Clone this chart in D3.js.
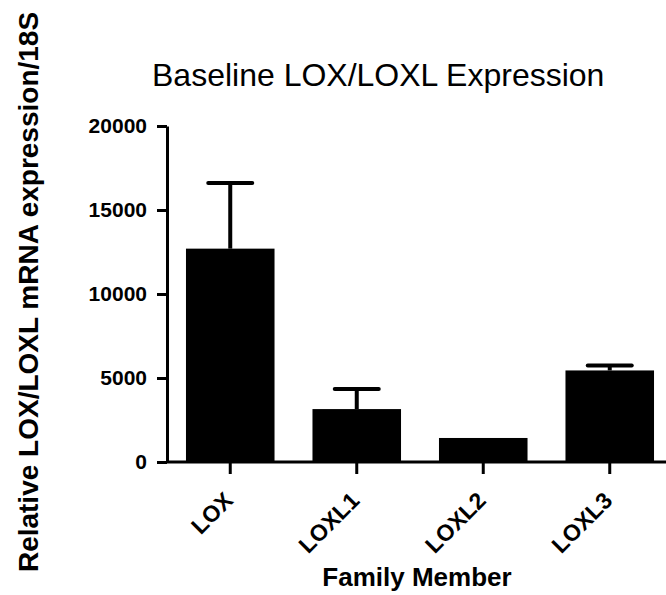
<!DOCTYPE html>
<html>
<head>
<meta charset="utf-8">
<script src="https://cdn.jsdelivr.net/npm/d3@7"></script>
<style>
    body { margin: 0; background: #fff; }
    svg { display: block; font-family: Arial, "Liberation Sans", sans-serif; }
</style>
</head>
<body>
<svg id="chart"></svg>
<script>
const categories = ['LOX', 'LOXL1', 'LOXL2', 'LOXL3']
const means = [12700, 3150, 1430, 5450]
const errorTops = [16600, 4350, 1430, 5740]
const yTicks = [0, 5000, 10000, 15000, 20000]

const width = 666
const height = 595

//set up svg container
const svg = d3.select('#chart')
    .attr('width', width)
    .attr('height', height)

// set up scales
const x = d3.scaleBand()
    .domain(categories)
    .range([167, 673])
    .paddingInner(0.3)
    .paddingOuter(0.15)

const y = d3.scaleLinear()
    .domain([0, 20000])
    .range([462, 126])

const rows = categories.map((c, i) => ({ label: c, mean: means[i], top: errorTops[i] }))

// bars
svg.selectAll('rect.bar')
    .data(rows)
    .join('rect')
    .attr('class', 'bar')
    .attr('x', d => x(d.label))
    .attr('y', d => y(d.mean))
    .attr('width', x.bandwidth())
    .attr('height', d => y(0) - y(d.mean))
    .attr('fill', '#000')

// error bars (upper only, skipped when the error is too small to show)
const capHalf = 22
const withError = rows.filter(d => d.top > d.mean)
svg.selectAll('line.stem')
    .data(withError)
    .join('line')
    .attr('class', 'stem')
    .attr('x1', d => x(d.label) + x.bandwidth() / 2)
    .attr('x2', d => x(d.label) + x.bandwidth() / 2)
    .attr('y1', d => y(d.mean))
    .attr('y2', d => y(d.top))
    .attr('stroke', '#000')
    .attr('stroke-width', 4)

svg.selectAll('line.cap')
    .data(withError)
    .join('line')
    .attr('class', 'cap')
    .attr('x1', d => x(d.label) + x.bandwidth() / 2 - capHalf)
    .attr('x2', d => x(d.label) + x.bandwidth() / 2 + capHalf)
    .attr('y1', d => y(d.top))
    .attr('y2', d => y(d.top))
    .attr('stroke', '#000')
    .attr('stroke-width', 4)
    .attr('stroke-linecap', 'round')

// y axis
const yAxis = svg.append('g')
    .attr('transform', 'translate(167,0)')
    .call(d3.axisLeft(y).tickValues(yTicks).tickSize(10).tickSizeOuter(0).tickPadding(10).tickFormat(d3.format('d')))
yAxis.select('.domain').attr('stroke-width', 3)
yAxis.selectAll('.tick line').attr('stroke-width', 3)
yAxis.selectAll('.tick text')
    .style('font-size', '21px')
    .style('font-weight', 'bold')
    .attr('fill', '#000')
    .attr('font-family', null)

// x axis
const xAxis = svg.append('g')
    .attr('transform', 'translate(0,462)')
    .call(d3.axisBottom(x).tickSize(12).tickSizeOuter(0))
xAxis.select('.domain').attr('stroke-width', 3).attr('d', 'M167,0H666')
xAxis.selectAll('.tick line').attr('stroke-width', 3)
xAxis.selectAll('.tick text')
    .style('font-size', '23px')
    .style('font-weight', 'bold')
    .attr('fill', '#000')
    .attr('font-family', null)
    .attr('text-anchor', 'end')
    .attr('y', 0)
    .attr('dy', 0)
    .attr('transform', 'translate(4,40) rotate(-45)')

// titles
svg.append('text')
    .attr('x', 152)
    .attr('y', 86)
    .style('font-size', '32px')
    .text('Baseline LOX/LOXL Expression')

svg.append('text')
    .attr('x', 417)
    .attr('y', 586)
    .attr('text-anchor', 'middle')
    .style('font-size', '26px')
    .style('font-weight', 'bold')
    .text('Family Member')

svg.append('text')
    .attr('transform', 'translate(38,292) rotate(-90)')
    .attr('text-anchor', 'middle')
    .style('font-size', '28px')
    .style('font-weight', 'bold')
    .text('Relative LOX/LOXL mRNA expression/18S')
</script>
</body>
</html>
